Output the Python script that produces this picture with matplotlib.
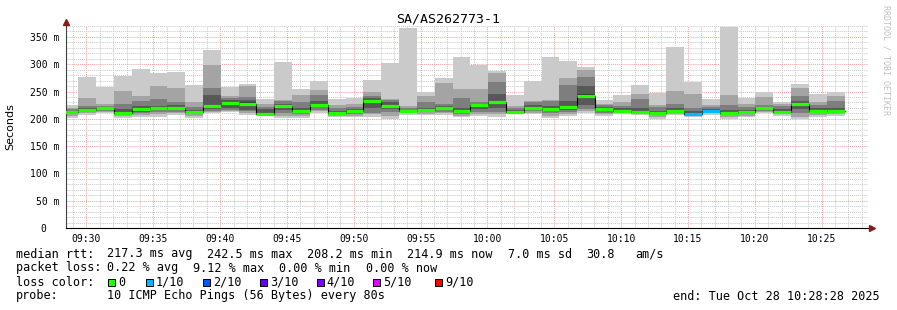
import numpy as np
import matplotlib.pyplot as plt
from matplotlib.patches import Rectangle
from matplotlib.ticker import MultipleLocator, FuncFormatter

W, H = 897, 310
plt.rcParams['font.family'] = 'DejaVu Sans Mono'

title = 'SA/AS262773-1'
first_step = 1683      # seconds after 09:00 -> 09:28:03
step = 80
view = (1708, 5308)    # 09:28:28 .. 10:28:28

# median rtt per 80s step (ms)
median = [212.5, 216, 219, 211, 218, 220, 220, 212, 223.4, 229, 228, 208.2,
          223.4, 215, 226, 210.6, 214.3, 233, 224, 214.8, 215.5, 219, 214,
          224.7, 231.4, 212.5, 220, 217.4, 222, 242.5, 217.4, 215, 212.5, 210,
          215, 209.4, 213.7, 211.2, 212.5, 219, 213, 226.5, 215, 214.9]
# lost pings out of 10
loss = [0]*35 + [1, 1] + [0]*7
# sorted ping rtts per step (ms)
pings = [
    [201, 206, 209, 211, 212, 213, 215, 218, 220, 225],
    [207, 210, 212, 214, 215, 217, 219, 224, 239, 277],
    [210, 212, 214, 216, 218, 220, 222, 224, 228, 258],
    [201, 205, 207, 209, 210, 212, 218, 227, 251, 278],
    [204, 207, 210, 213, 216, 220, 224, 232, 242, 292],
    [204, 208, 212, 216, 219, 221, 224, 237, 260, 283],
    [207, 210, 213, 216, 219, 221, 226, 231, 257, 286],
    [201, 205, 208, 210, 211, 213, 217, 222, 230, 262],
    [210, 212, 215, 218, 222, 225, 243, 256, 298, 326],
    [212, 214, 216, 220, 227, 231, 235, 238, 241, 258],
    [207, 210, 214, 217, 226, 230, 234, 240, 260, 264],
    [207, 208, 208, 208, 208, 209, 218, 221, 228, 237],
    [201, 205, 210, 216, 222, 225, 228, 232, 234, 304],
    [202, 206, 209, 212, 214, 216, 220, 231, 244, 255],
    [211, 214, 217, 221, 225, 227, 232, 244, 253, 269],
    [203, 205, 207, 209, 210, 211, 215, 220, 225, 236],
    [203, 206, 209, 212, 214, 215, 218, 222, 228, 238],
    [204, 208, 211, 220, 232, 234, 238, 242, 250, 271],
    [199, 206, 212, 218, 222, 226, 230, 234, 236, 302],
    [207, 210, 212, 214, 214, 215, 217, 220, 223, 366],
    [207, 209, 212, 214, 215, 216, 220, 230, 242, 250],
    [207, 210, 213, 216, 218, 220, 224, 228, 266, 274],
    [203, 206, 209, 211, 213, 215, 220, 238, 255, 314],
    [206, 209, 213, 218, 223, 226, 228, 230, 254, 298],
    [204, 208, 212, 220, 230, 233, 245, 268, 283, 288],
    [208, 210, 211, 212, 212, 213, 216, 220, 223, 244],
    [208, 211, 214, 217, 219, 221, 225, 230, 232, 270],
    [202, 206, 210, 214, 216, 219, 224, 232, 234, 314],
    [205, 209, 213, 217, 220, 224, 232, 262, 274, 306],
    [210, 214, 218, 226, 240, 245, 260, 276, 289, 295],
    [205, 208, 211, 214, 216, 218, 221, 225, 228, 234],
    [208, 210, 212, 213, 214, 216, 219, 224, 230, 244],
    [207, 209, 210, 211, 212, 213, 220, 236, 245, 262],
    [200, 204, 207, 209, 210, 211, 215, 221, 225, 248],
    [207, 209, 211, 213, 214, 216, 220, 228, 251, 332],
    [204, 206, 208, 209, 209, 210, 214, 220, 245, 268],
    [207, 210, 212, 213, 213, 214, 218, 222, 225, 236],
    [200, 204, 207, 210, 211, 212, 216, 225, 244, 368],
    [203, 206, 209, 211, 212, 213, 216, 222, 228, 239],
    [210, 212, 215, 217, 218, 220, 222, 225, 240, 250],
    [205, 208, 210, 212, 213, 214, 218, 224, 228, 230],
    [200, 204, 210, 218, 225, 228, 232, 242, 256, 264],
    [204, 207, 210, 213, 214, 216, 220, 226, 231, 245],
    [206, 209, 212, 214, 215, 216, 220, 232, 242, 250],
]

loss_labels = ['0', '1/10', '2/10', '3/10', '4/10', '5/10', '9/10']
loss_colors = ['#26ff00', '#00b8ff', '#0059ff', '#5e00ff', '#7e00ff', '#dd00ff', '#ff0000']
smoke_shades = ['#cacaca', '#a4a4a4', '#7e7e7e', '#585858', '#323232']

fig = plt.figure(figsize=(W/100, H/100), dpi=100)
ax = fig.add_axes([66/W, 1-228/H, (868-66)/W, (228-26)/H])

p = np.array(pings)
t = first_step + step*np.arange(len(p))
for i, shade in enumerate(smoke_shades):
    lo, hi = p[:, i], p[:, 9-i]
    ax.bar(t, hi-lo, bottom=lo, width=step, align='edge', color=shade, lw=0, zorder=2)

edges = np.append(t, t[-1]+step)
ax.step(edges, np.append(median, median[-1]), where='post', color='black', lw=0.8, zorder=3)
for ti, m, l in zip(t, median, loss):
    ax.hlines(m, ti, ti+step, color=loss_colors[l], lw=2.3, zorder=4)

ax.set_xlim(*view)
ax.set_ylim(0, 370)
ax.xaxis.set_major_locator(MultipleLocator(300))
ax.xaxis.set_minor_locator(MultipleLocator(60))
ax.yaxis.set_major_locator(MultipleLocator(50))
ax.yaxis.set_minor_locator(MultipleLocator(10))
ax.xaxis.set_major_formatter(FuncFormatter(
    lambda v, _: '%02d:%02d' % (9 + int(v)//3600, int(v) % 3600//60)))
ax.yaxis.set_major_formatter(FuncFormatter(
    lambda v, _: '0  ' if v == 0 else '%d m' % v))
ax.grid(which='minor', color='#c8c8c8', ls=(0, (1, 1)), lw=0.7)
ax.grid(which='major', color='#f2a0a0', ls=(0, (1, 1)), lw=0.7)
ax.set_axisbelow(True)
ax.tick_params(which='both', length=0, labelsize=7, pad=5)
ax.tick_params(axis='x', pad=4)
for s in ('top', 'right'):
    ax.spines[s].set_visible(False)
ax.spines['left'].set_color('#404040')
ax.spines['bottom'].set_color('black')
ax.plot([0], [1.02], marker='^', color='#8b1a1a', ms=4, transform=ax.transAxes, clip_on=False)
ax.plot([1.005], [0], marker='>', color='#8b1a1a', ms=4, transform=ax.transAxes, clip_on=False)


def ftext(x, y, s, **kw):
    kw.setdefault('fontsize', 8.5)
    kw.setdefault('va', 'center')
    fig.text(x/W, 1-y/H, s, **kw)


ftext(448, 19, title, fontsize=9.5, ha='center')
ftext(10, 127, 'Seconds', family='DejaVu Sans', fontsize=8, rotation=90, ha='center')
ftext(886, 60, 'RRDTOOL / TOBI OETIKER', fontsize=6, rotation=-90, ha='center', color='#c0c0c0')

ftext(16, 254, 'median rtt:')
for x, s in [(107.3, '217.3 ms avg'), (207.3, '242.5 ms max'), (307, '208.2 ms min'),
             (407, '214.9 ms now'), (507.7, '7.0 ms sd'), (586, '30.8'), (635, 'am/s')]:
    ftext(x, 254, s)
ftext(16, 268, 'packet loss:')
for x, s in [(107.3, '0.22 % avg'), (193.3, '9.12 % max'), (279.3, '0.00 % min'), (365.7, '0.00 % now')]:
    ftext(x, 268, s)
ftext(16, 282, 'loss color:')
sq_x = [108.3, 146, 202.7, 259.7, 316.7, 373.3, 435]
for x, lab, c in zip(sq_x, loss_labels, loss_colors):
    fig.add_artist(Rectangle((x/W, 1-285.7/H), 7/W, 7/H, transform=fig.transFigure,
                             facecolor=c, edgecolor='black', lw=0.7))
    ftext(x + 10, 282, lab)
ftext(16, 296, 'probe:')
ftext(107.3, 296, '10 ICMP Echo Pings (56 Bytes) every 80s')
ftext(880, 296, 'end: Tue Oct 28 10:28:28 2025', ha='right')

fig.savefig('out.png', dpi=100)
